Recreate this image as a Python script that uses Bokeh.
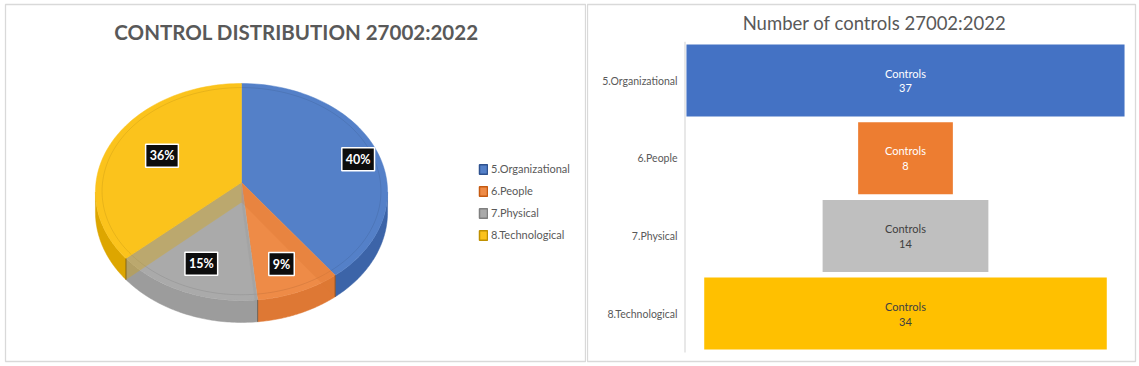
import numpy as np
from bokeh.plotting import figure
from bokeh.models import Range1d, Legend, LegendItem
from bokeh.layouts import row
from bokeh.embed import file_html
from bokeh.resources import INLINE
from bokeh.core.properties import value

# ---------------- data ----------------
categories = ["5.Organizational", "6.People", "7.Physical", "8.Technological"]
controls = [37, 8, 14, 34]
pct_labels = ["40%", "9%", "15%", "36%"]
pie_title = "CONTROL DISTRIBUTION 27002:2022"
funnel_title = "Number of controls 27002:2022"
bar_label = "Controls"

# ---------------- styles ----------------
top_colors = ["#5480C8", "#EE8B47", "#AAAAAA", "#FBC31C"]
side_colors = ["#3C64A8", "#DE7834", "#9C9C9C", "#DDA600"]
legend_edge = ["#2F528F", "#C55A11", "#7F7F7F", "#BF9000"]
funnel_colors = ["#4472C4", "#ED7D31", "#BFBFBF", "#FFC000"]
funnel_text_colors = ["#FFFFFF", "#FFFFFF", "#404040", "#404040"]
FONT = "Lato"
TXT = "#595959"
BORDER = "#D9D9D9"
W1, W2, H = 586, 553, 366

# ================= PIE (3D look) =================
p1 = figure(width=W1, height=H, x_range=Range1d(0, W1), y_range=Range1d(H, 0),
            output_backend="svg", toolbar_location=None, tools="",
            x_axis_location=None, y_axis_location=None, min_border=0)
p1.grid.visible = False
p1.outline_line_color = None
p1.background_fill_color = "white"
p1.border_fill_color = "white"

# panel frame
p1.quad(left=[5], right=[585], top=[4], bottom=[361], fill_color=None,
        line_color=BORDER, line_width=1.3)

CX, CY, A, B, K, HS = 241.0, 182.0, 145.5, 107.7, 0.0876, 20.0


def proj(r, th, h=0.0):
    u = r * np.sin(th)
    v = r * np.cos(th)
    s = 1.0 / (1.0 + K * v)
    return CX + A * u * s, CY - B * v * s + h * HS * s


vals = np.array(controls, dtype=float)
cum = np.concatenate([[0.0], np.cumsum(vals) / vals.sum()]) * 2 * np.pi
ts = np.arccos(-K)

# sides (front part of cylinder)
for i in range(len(vals)):
    t0, t1 = cum[i], cum[i + 1]
    lo, hi = max(t0, ts), min(t1, 2 * np.pi - ts)
    if hi > lo:
        th = np.linspace(lo, hi, 60)
        xt, yt = proj(1.0, th, 0.0)
        xb, yb = proj(1.0, th[::-1], 1.0)
        p1.patch(np.concatenate([xt, xb]), np.concatenate([yt, yb]),
                 fill_color=side_colors[i], line_color=side_colors[i], line_width=0.5)

# tops
for i in range(len(vals)):
    t0, t1 = cum[i], cum[i + 1]
    th = np.linspace(t0, t1, 80)
    xa, ya = proj(1.0, th)
    x0, y0 = proj(0.0, 0.0)
    p1.patch(np.concatenate([[x0], xa]), np.concatenate([[y0], ya]),
             fill_color=top_colors[i], line_color=top_colors[i], line_width=0.5)
    # faint bevel ring
    xr, yr = proj(0.955, th)
    p1.line(xr, yr, line_color="#000000", line_alpha=0.08, line_width=1)

# radial walls seen through the semi-transparent tops
for i in range(len(vals)):
    t = cum[i]
    if t == 0:
        continue
    xa, ya = proj(0.0, t, 0.0)
    xb, yb = proj(1.0, t, 0.0)
    xc, yc = proj(1.0, t, 1.0)
    xd, yd = proj(0.0, t, 1.0)
    p1.patch([xa, xb, xc, xd], [ya, yb, yc, yd], fill_color=side_colors[i],
             fill_alpha=0.35, line_color=None)
    p1.line([xb, xc], [yb, yc], line_color="#3a2a1a", line_alpha=0.5, line_width=1)

# percentage labels
lab_r = [0.85, 0.78, 0.75, 0.62]
lab_dx = [2, -4, 2, 1]
lab_dy = [5, -2, 1, 0]
mids = (cum[:-1] + cum[1:]) / 2
lx, ly = [], []
for i, m in enumerate(mids):
    x, y = proj(lab_r[i], m)
    lx.append(x + lab_dx[i])
    ly.append(y + lab_dy[i])
p1.text(x=lx, y=ly, text=pct_labels, text_align="center", text_baseline="middle",
        text_font=value(FONT), text_font_style="bold", text_font_size="12.5px",
        text_color="white", background_fill_color="#0D0D0D",
        border_line_color="white", border_line_width=1.5, padding=4)

# title
p1.text(x=[296], y=[31], text=[pie_title], text_align="center", text_baseline="middle",
        text_font=value(FONT), text_font_style="bold", text_font_size="20.5px",
        text_color=TXT)

# legend
items = []
for i, c in enumerate(categories):
    r = p1.quad(left=[np.nan], right=[np.nan], top=[np.nan], bottom=[np.nan],
                fill_color=top_colors[i], line_color=legend_edge[i], line_width=1.5)
    items.append(LegendItem(label=c, renderers=[r]))
leg = Legend(items=items, location=(478, 125), orientation="vertical",
             glyph_width=10, glyph_height=12, label_height=12, spacing=9,
             label_standoff=3, padding=0, margin=0,
             label_text_font=FONT, label_text_font_size="11px",
             label_text_color=TXT, border_line_color=None,
             background_fill_alpha=0)
p1.add_layout(leg)

# ================= FUNNEL =================
XC, SCALE = 319.0, 11.84          # pixel centre of bars, px per control
Y0, PITCH = 80.0, 77.7            # pixel centre of first bar, px per category


def fx(px):
    return (px - XC) / SCALE


def fy(py):
    return (py - Y0) / PITCH


p2 = figure(width=W2, height=H, x_range=Range1d(fx(0), fx(W2)),
            y_range=Range1d(fy(H), fy(0)),
            output_backend="svg", toolbar_location=None, tools="",
            x_axis_location=None, y_axis_location=None, min_border=0)
p2.grid.visible = False
p2.outline_line_color = None

# panel frame
p2.quad(left=[fx(1)], right=[fx(549)], top=[fy(4)], bottom=[fy(361)],
        fill_color=None, line_color=BORDER, line_width=1.3)

idx = np.arange(len(categories))
v = np.array(controls, dtype=float)

# axis line
p2.segment(x0=[fx(98.5)], y0=[-0.5], x1=[fx(98.5)], y1=[len(categories) - 0.5],
           line_color=BORDER, line_width=1.2)

p2.hbar(y=idx, left=-v / 2, right=v / 2, height=0.927,
        fill_color=funnel_colors, line_color=None)

p2.text(x=np.zeros(len(v)), y=idx, text=[f"{bar_label}\n{c}" for c in controls],
        text_align="center", text_baseline="middle", text_font=value(FONT),
        text_font_size="11px", text_color=funnel_text_colors, text_line_height=1.15)

p2.text(x=np.full(len(v), fx(91)), y=idx, text=categories, text_align="right",
        text_baseline="middle", text_font=value(FONT), text_font_size="10.5px",
        text_color=TXT)

p2.text(x=[fx(288)], y=[fy(22)], text=[funnel_title], text_align="center",
        text_baseline="middle", text_font=value(FONT), text_font_size="18.5px",
        text_color=TXT)

layout = row(p1, p2, spacing=0)
open("out.html", "w").write(file_html(layout, INLINE))
